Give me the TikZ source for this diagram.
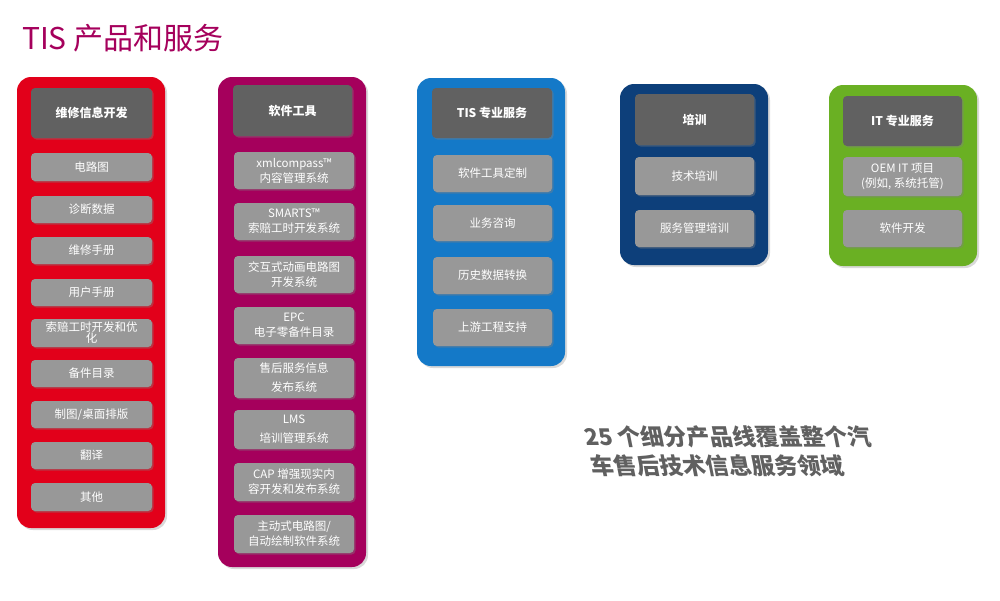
\documentclass[tikz,border=0pt]{standalone}
\usepackage{fontspec}
\setmainfont{Noto Sans CJK SC}
\usetikzlibrary{shadows}
\definecolor{cred}{HTML}{E2001A}
\definecolor{cmag}{HTML}{A5005C}
\definecolor{cblue}{HTML}{1479C8}
\definecolor{cnavy}{HTML}{0D3F7A}
\definecolor{cgreen}{HTML}{6AB023}
\definecolor{hdr}{HTML}{616161}
\definecolor{itm}{HTML}{989898}
\definecolor{bigtxt}{HTML}{606060}
\definecolor{ttl}{HTML}{A5005C}
\begin{document}
\begin{tikzpicture}[x=1pt,y=-1pt,
 panel/.style={rounded corners=14pt, drop shadow={shadow xshift=2pt,shadow yshift=-2pt,opacity=0.3}},
 hdrbox/.style={fill=hdr, rounded corners=4pt, text=white, font=\fontsize{12}{14}\selectfont\bfseries, align=center, inner sep=0pt, drop shadow={shadow xshift=1.5pt,shadow yshift=-1.5pt,opacity=0.4}},
 itembox/.style={fill=itm, rounded corners=4pt, text=white, font=\fontsize{11.5}{15}\selectfont, align=center, inner sep=0pt, drop shadow={shadow xshift=1.5pt,shadow yshift=-1.5pt,opacity=0.4}}]
\useasboundingbox (0,0) rectangle (1000,600);
\newcommand\bx[7]{\node[#1, minimum width=#4-#2, minimum height=#5-#3] (#6) at ({(#2+#4)/2},{(#3+#5)/2}) {#7};}
\node[anchor=west, text=ttl, font=\fontsize{30}{34}\selectfont, inner sep=0pt] (title) at (22,38) {TIS 产品和服务};
% panels
\fill[cred,panel] (17,77) rectangle (165,528);
\fill[cmag,panel] (218,77) rectangle (366,567);
\fill[cblue,panel] (417,78) rectangle (565,366);
\fill[cnavy,panel] (620,84) rectangle (768,265);
\fill[cgreen,panel] (829,85) rectangle (977,266);
% col1
\bx{hdrbox}{31}{88}{152}{138}{h1}{维修信息开发}
\bx{itembox}{31}{153}{152}{181}{a1}{电路图}
\bx{itembox}{31}{196}{152}{223}{a2}{诊断数据}
\bx{itembox}{31}{237}{152}{264}{a3}{维修手册}
\bx{itembox}{31}{279}{152}{306}{a4}{用户手册}
\bx{itembox}{31}{319}{152}{347}{a5}{索赔工时开发和优\\[-4pt]化}
\bx{itembox}{31}{360}{152}{387}{a6}{备件目录}
\bx{itembox}{31}{401}{152}{428}{a7}{制图/桌面排版}
\bx{itembox}{31}{442}{152}{469}{a8}{翻译}
\bx{itembox}{31}{483}{152}{511}{a9}{其他}
% col2
\bx{hdrbox}{233}{85}{352}{136}{h2}{软件工具}
\bx{itembox}{234}{152}{354}{189}{b1}{xmlcompass™\\内容管理系统}
\bx{itembox}{234}{203}{354}{240}{b2}{SMARTS™\\索赔工时开发系统}
\bx{itembox}{234}{256}{354}{293}{b3}{交互式动画电路图\\开发系统}
\bx{itembox}{234}{307}{354}{344}{b4}{EPC\\电子零备件目录}
\bx{itembox}{234}{358}{354}{398}{b5}{售后服务信息\\[4pt]发布系统}
\bx{itembox}{234}{410}{354}{449}{b6}{LMS\\[4pt]培训管理系统}
\bx{itembox}{234}{463}{354}{501}{b7}{CAP 增强现实内\\容开发和发布系统}
\bx{itembox}{234}{515}{354}{553}{b8}{主动式电路图/\\自动绘制软件系统}
% col3
\bx{hdrbox}{432}{88}{552}{138}{h3}{TIS 专业服务}
\bx{itembox}{433}{155}{552}{192}{c1}{软件工具定制}
\bx{itembox}{433}{205}{552}{241}{c2}{业务咨询}
\bx{itembox}{433}{257}{552}{294}{c3}{历史数据转换}
\bx{itembox}{433}{309}{552}{346}{c4}{上游工程支持}
% col4
\bx{hdrbox}{635}{94}{754}{145}{h4}{培训}
\bx{itembox}{635}{157}{754}{195}{d1}{技术培训}
\bx{itembox}{635}{210}{754}{247}{d2}{服务管理培训}
% col5
\bx{hdrbox}{843}{96}{962}{146}{h5}{IT 专业服务}
\bx{itembox}{843}{157}{962}{196}{e1}{OEM IT 项目\\(例如, 系统托管)}
\bx{itembox}{843}{210}{962}{247}{e2}{软件开发}
% big text
\node[anchor=north west, align=left, text=bigtxt, font=\fontsize{23}{29}\selectfont\bfseries, inner sep=0pt, xslant=-0.2] (big) at (582,425) {25 个细分产品线覆盖整个汽\\车售后技术信息服务领域};
\end{tikzpicture}
\end{document}
